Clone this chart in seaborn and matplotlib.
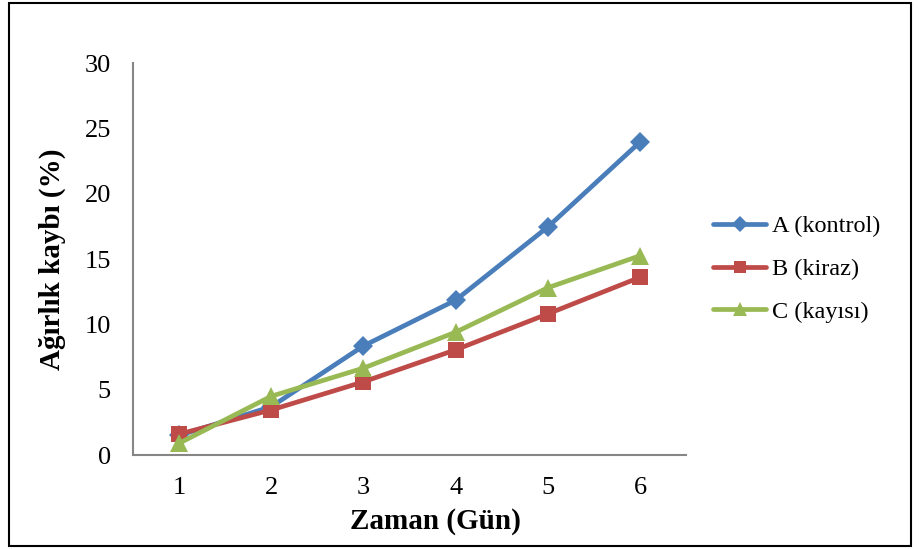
import matplotlib
matplotlib.use("Agg")
import matplotlib.pyplot as plt
import seaborn as sns
import pandas as pd
from matplotlib.patches import Rectangle

days = [1, 2, 3, 4, 5, 6]
series_names = ["A (kontrol)", "B (kiraz)", "C (kayısı)"]
a_values = [1.5, 3.7, 8.35, 11.85, 17.45, 23.95]
b_values = [1.6, 3.45, 5.6, 8.05, 10.8, 13.6]
c_values = [0.9, 4.5, 6.65, 9.4, 12.8, 15.25]
y_ticks = [0, 5, 10, 15, 20, 25, 30]

colors = {"A (kontrol)": "#4A7EBB", "B (kiraz)": "#BE4B48", "C (kayısı)": "#98B954"}
markers = {"A (kontrol)": "D", "B (kiraz)": "s", "C (kayısı)": "^"}
msizes = {"A (kontrol)": 10.5, "B (kiraz)": 11.5, "C (kayısı)": 13.5}

rows = []
for name, vals in zip(series_names, [a_values, b_values, c_values]):
    for d, v in zip(days, vals):
        rows.append({"Gün": d, "Değer": v, "Seri": name})
df = pd.DataFrame(rows)

sns.set_style("white")
plt.rcParams["font.family"] = ["Liberation Serif", "DejaVu Serif"]
plt.rcParams["text.color"] = "black"
plt.rcParams["axes.labelcolor"] = "black"
plt.rcParams["xtick.color"] = "black"
plt.rcParams["ytick.color"] = "black"

fig = plt.figure(figsize=(9.2, 5.49), dpi=100)
ax = fig.add_axes([0.1446, 0.1712, 0.6011, 0.714])

for name in series_names:
    sub = df[df["Seri"] == name]
    sns.lineplot(data=sub, x="Gün", y="Değer", ax=ax, color=colors[name],
                 marker=markers[name], markersize=msizes[name], linewidth=3.4,
                 markeredgewidth=0, label=name, legend=False)

ax.set_xlim(0.5, 6.5)
ax.set_ylim(0, 30)
ax.set_xticks(days)
ax.set_yticks(y_ticks)
ax.tick_params(axis="both", labelsize=19, length=0, labelcolor="black")
ax.tick_params(axis="x", pad=16)
ax.tick_params(axis="y", pad=16)
for s in ["top", "right"]:
    ax.spines[s].set_visible(False)
for s in ["left", "bottom"]:
    ax.spines[s].set_color("#868686")
    ax.spines[s].set_linewidth(1.5)
ax.set_xlabel("Zaman (Gün)", fontsize=21, fontweight="bold", color="black")
ax.xaxis.set_label_coords(0.546, -0.135)
ax.set_ylabel("Ağırlık kaybı (%)", fontsize=21, fontweight="bold", labelpad=13, color="black")

handles, labels = ax.get_legend_handles_labels()
leg = fig.legend(handles, labels, loc="center left", bbox_to_anchor=(0.751, 0.51),
                 frameon=False, fontsize=17.5, handlelength=2.2, labelspacing=0.85,
                 handletextpad=0.25, markerscale=0.75)
for t in leg.get_texts():
    t.set_color("black")

fig.patches.append(Rectangle((0.0098, 0.006), 0.980, 0.988, transform=fig.transFigure,
                             fill=False, edgecolor="black", linewidth=1.5))

fig.savefig("out.png", dpi=100)
